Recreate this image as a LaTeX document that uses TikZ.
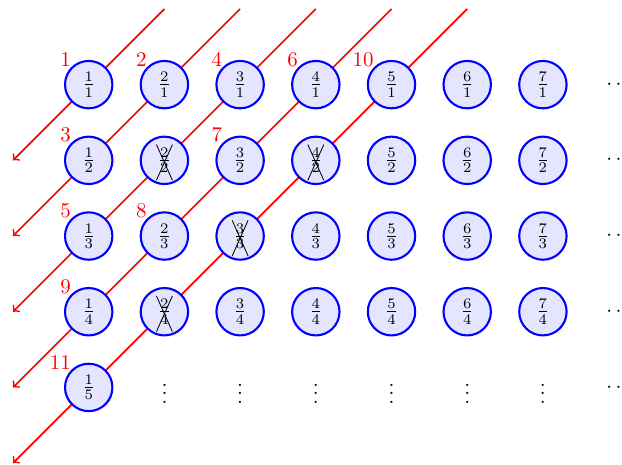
\documentclass[tikz,border=0pt]{standalone}
\tikzset{
    frac/.style={circle, draw=blue, line width=1pt, fill=blue!10, minimum size=0.74cm},
    count/.style={red, inner sep=0pt, anchor=south east},
}
\begin{document}
\begin{tikzpicture}[x=1.27cm, y=1.27cm, >=to]
    \useasboundingbox (-0.172,0.118) rectangle (8.045,-6.02);

    % diagonals of the enumeration
    \foreach \k in {1,...,5} {
        \coordinate (top\k) at (\k+1,0);
        \coordinate (tip\k) at (0,-\k-1);
        \draw[red, thick, ->] (top\k) -- (tip\k);
    }

    % the fractions p/q
    \foreach \p in {1,...,7}
        \foreach \q in {1,...,4}
            \node[frac] (f\p-\q) at (\p,-\q) {$\frac{\p}{\q}$};
    \node[frac] (f1-5) at (1,-5) {$\frac{1}{5}$};
    \foreach \p in {2,...,7}
        \node (vd\p) at (\p,-5) {$\vdots$};
    \foreach \q in {1,...,5}
        \node (hd\q) at (8,-\q) {$\cdots$};

    % crossed out: not in lowest terms
    \foreach \n in {f2-2, f4-2, f3-3, f2-4} {
        \draw ([shift={(-3.8pt,7.5pt)}]\n.center) -- ([shift={(3.8pt,-9.5pt)}]\n.center);
        \draw ([shift={(3.8pt,7.5pt)}]\n.center) -- ([shift={(-3.8pt,-9.5pt)}]\n.center);
    }

    % counting
    \foreach \c/\n in {1/f1-1, 2/f2-1, 3/f1-2, 4/f3-1, 5/f1-3, 6/f4-1,
                       7/f3-2, 8/f2-3, 9/f1-4, 10/f5-1, 11/f1-5}
        \node[count] (c\c) at (\n.north west) {\c};
\end{tikzpicture}
\end{document}
